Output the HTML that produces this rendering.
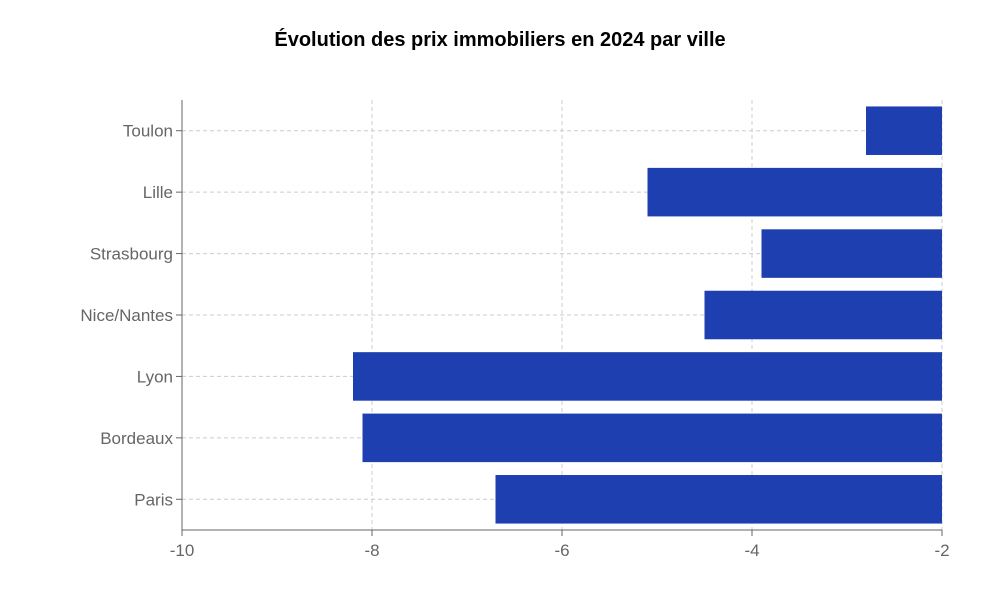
<!DOCTYPE html>
<html><head><meta charset="utf-8"><style>
body{margin:0;background:#fff;font-family:"Liberation Sans",sans-serif}
</style></head><body>
<svg id="chart" width="1000" height="595">
<text x="500" y="46" text-anchor="middle" font-size="20" font-weight="bold" fill="#000">Évolution des prix immobiliers en 2024 par ville</text>
<g id="grid"></g><g id="bars"></g><g id="axes"></g>
</svg>
<script>
const categories=["Paris","Bordeaux","Lyon","Nice/Nantes","Strasbourg","Lille","Toulon"];
const values=[-6.7,-8.1,-8.2,-4.5,-3.9,-5.1,-2.8];
const xTicks=[-10,-8,-6,-4,-2];
const NS="http://www.w3.org/2000/svg";
const L=182,R=942,T=100,B=530,xmin=-10,xmax=-2;
const x=v=>L+(v-xmin)/(xmax-xmin)*(R-L);
const band=(B-T)/categories.length;
const yc=i=>B-band*(i+0.5);
function mk(tag,attrs,parent){const e=document.createElementNS(NS,tag);for(const k in attrs)e.setAttribute(k,attrs[k]);document.getElementById(parent).appendChild(e);return e;}
xTicks.forEach(t=>{
  const g=mk("line",{x1:x(t),x2:x(t),y1:T,y2:B,stroke:"#ccc","stroke-dasharray":"4 3"},"grid");
  
  
  const tk=mk("line",{x1:x(t),x2:x(t),y1:B,y2:B+6,stroke:"#666"},"axes");
  
  
  const lb=mk("text",{x:x(t),y:B+26,"text-anchor":"middle","font-size":"17",fill:"#666"},"axes");
  lb.textContent=t;
  
  
});
categories.forEach((c,i)=>{
  const g=mk("line",{x1:L,x2:R,y1:yc(i),y2:yc(i),stroke:"#ccc","stroke-dasharray":"4 3"},"grid");
  
  
  const h=band*0.79;
  const v=values[i];
  const b=mk("rect",{x:x(v),y:yc(i)-h/2,width:x(xmax)-x(v),height:h,fill:"#1e3faf"},"bars");
  
  
  const tk=mk("line",{x1:L-6,x2:L,y1:yc(i),y2:yc(i),stroke:"#666"},"axes");
  
  
  const lb=mk("text",{x:L-9,y:yc(i)+6,"text-anchor":"end","font-size":"17",fill:"#666"},"axes");
  lb.textContent=c;
  
  
});
const ax=mk("line",{x1:L,x2:R,y1:B,y2:B,stroke:"#666"},"axes");


const ay=mk("line",{x1:L,x2:L,y1:T,y2:B,stroke:"#666"},"axes");


</script>
</body></html>
